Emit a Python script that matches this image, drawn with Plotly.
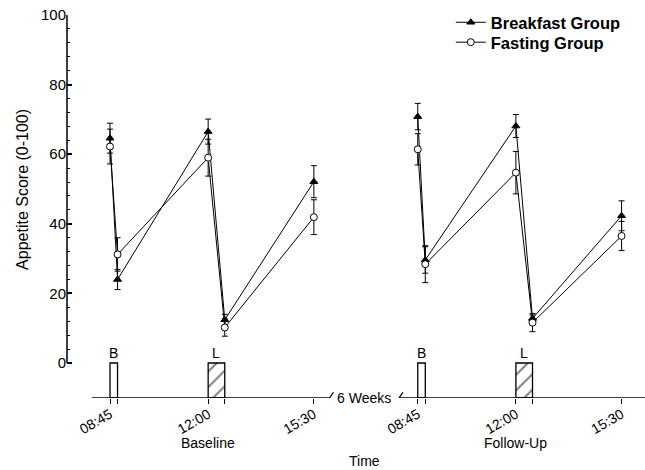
import plotly.graph_objects as go

# ---- data ----
times = [8.75, 9.0, 12.0, 12.55, 15.5]          # hours of measurement
tick_labels = ["08:45", "", "12:00", "", "15:30"]
breakfast_base = [64.6, 24.0, 66.5, 12.4, 52.1]
breakfast_base_err = [4.3, 2.9, 3.6, 1.6, 4.6]
fasting_base = [62.2, 31.2, 59.0, 10.2, 41.9]
fasting_base_err = [5.0, 4.8, 5.3, 2.5, 5.0]
breakfast_fu = [70.8, 29.6, 68.1, 12.8, 42.3]
breakfast_fu_err = [3.8, 3.8, 3.3, 1.0, 4.3]
fasting_fu = [61.4, 28.4, 54.7, 11.6, 36.5]
fasting_fu_err = [4.5, 5.3, 6.1, 2.6, 4.2]
meals = ["B", "L"]
meal_start = [8.75, 12.0]
meal_end = [9.0, 12.55]
period_labels = ["Baseline", "Follow-Up"]

# ---- layout helpers ----
FU_SHIFT = 10.19          # horizontal gap for the 6-week break
AXIS_Y = -10.06           # level of the time axis line
FONT = "Liberation Sans, Arial, sans-serif"

fu_times = [t + FU_SHIFT for t in times]

fig = go.Figure()

# meal bars
for shift in [0, FU_SHIFT]:
    for m, s, e in zip(meals, meal_start, meal_end):
        hatched = (m == "L")
        fig.add_trace(go.Bar(
            x=[(s + e) / 2 + shift], y=[-AXIS_Y], base=[AXIS_Y], width=[e - s],
            marker=dict(color="white", line=dict(color="black", width=1.3),
                        pattern=dict(shape="/" if hatched else "", fgcolor="black",
                                     bgcolor="white", size=11, solidity=0.18)),
            showlegend=False, hoverinfo="skip"))
        fig.add_annotation(x=(s + e) / 2 + shift, y=0, text=m, showarrow=False,
                           yanchor="bottom", font=dict(size=14, color="black", family=FONT))

def add_series(x, y, err, name, symbol, fill, show, legend):
    fig.add_trace(go.Scatter(
        x=x, y=y, mode="lines+markers", name=name, legendgroup=name, showlegend=show,
        legend=legend,
        line=dict(color="black", width=1),
        marker=dict(symbol=symbol, size=7, color=fill, line=dict(color="black", width=1)),
        error_y=dict(type="data", array=err, color="black", thickness=1, width=3)))

add_series(times, breakfast_base, breakfast_base_err, "Breakfast Group", "triangle-up", "black", True, "legend")
add_series(fu_times, breakfast_fu, breakfast_fu_err, "Breakfast Group", "triangle-up", "black", False, "legend")
add_series(times, fasting_base, fasting_base_err, "Fasting Group", "circle", "white", True, "legend2")
add_series(fu_times, fasting_fu, fasting_fu_err, "Fasting Group", "circle", "white", False, "legend2")

# time axis line with break
x_left_end = 8.154
x_break1 = 16.018
x_break2 = 18.32
x_right_end = 26.465
fig.add_shape(type="line", x0=x_left_end, x1=x_break1, y0=AXIS_Y, y1=AXIS_Y,
              line=dict(color="black", width=1.5))
fig.add_shape(type="line", x0=x_break2, x1=x_right_end, y0=AXIS_Y, y1=AXIS_Y,
              line=dict(color="black", width=1.5))
for xb in [x_break1, x_break2]:
    fig.add_shape(type="line", x0=xb - 0.13, x1=xb + 0.13, y0=AXIS_Y - 1.6, y1=AXIS_Y + 1.6,
                  line=dict(color="black", width=1.2))
fig.add_annotation(x=(x_break1 + x_break2) / 2, y=AXIS_Y, text="6 Weeks", showarrow=False,
                   yanchor="middle", font=dict(size=14, color="black", family=FONT))

# value axis line (0-100 only)
fig.add_shape(type="line", xref="paper", x0=0, x1=0, y0=0, y1=100,
              line=dict(color="black", width=1.5))

# period labels and axis titles
for lbl, xc in zip(period_labels, [12.0, 12.0 + FU_SHIFT]):
    fig.add_annotation(x=xc, y=AXIS_Y, text=lbl, showarrow=False, yanchor="top", yshift=-35,
                       font=dict(size=14, color="black", family=FONT))
fig.add_annotation(x=(x_break1 + x_break2) / 2, y=AXIS_Y, text="Time", showarrow=False,
                   yanchor="top", yshift=-53, font=dict(size=14, color="black", family=FONT))
fig.add_annotation(xref="paper", x=-0.078, y=50, text="Appetite Score (0-100)", showarrow=False,
                   textangle=-90, xanchor="center", yanchor="middle",
                   font=dict(size=16, color="black", family=FONT))

legend_style = dict(xanchor="left", yanchor="top",
                    font=dict(size=16.5, weight="bold", family=FONT, color="black"),
                    bgcolor="rgba(0,0,0,0)", itemwidth=30)

fig.update_layout(
    width=645, height=470,
    margin=dict(l=67, r=0, t=15, b=72),
    paper_bgcolor="white", plot_bgcolor="white",
    font=dict(family=FONT, color="black", size=14),
    barmode="overlay",
    legend=dict(x=0.664, y=1.026, **legend_style),
    legend2=dict(x=0.664, y=0.974, **legend_style),
    xaxis=dict(range=[7.326, 26.465], showgrid=False, zeroline=False, showline=False,
               automargin=False,
               tickmode="array", tickvals=times + fu_times, ticktext=tick_labels + tick_labels,
               ticks="outside", ticklen=5, tickwidth=1.3, tickcolor="black", tickangle=-30,
               ticklabelstandoff=-3,
               tickfont=dict(size=14, family=FONT, color="black")),
    yaxis=dict(range=[AXIS_Y, 100], showgrid=False, zeroline=False, showline=False,
               automargin=False,
               tickmode="array", tickvals=[0, 20, 40, 60, 80, 100],
               ticks="inside", ticklen=5, tickwidth=1.5, tickcolor="black",
               tickfont=dict(size=15, family=FONT, color="black"),
               minor=dict(tickvals=[v for v in range(4, 100, 4) if v % 20 != 0],
                          ticks="inside", ticklen=3, tickwidth=1, tickcolor="black")),
)

fig.write_html("out.html", post_script="document.body.style.margin='0';",
               config={"displayModeBar": False})
